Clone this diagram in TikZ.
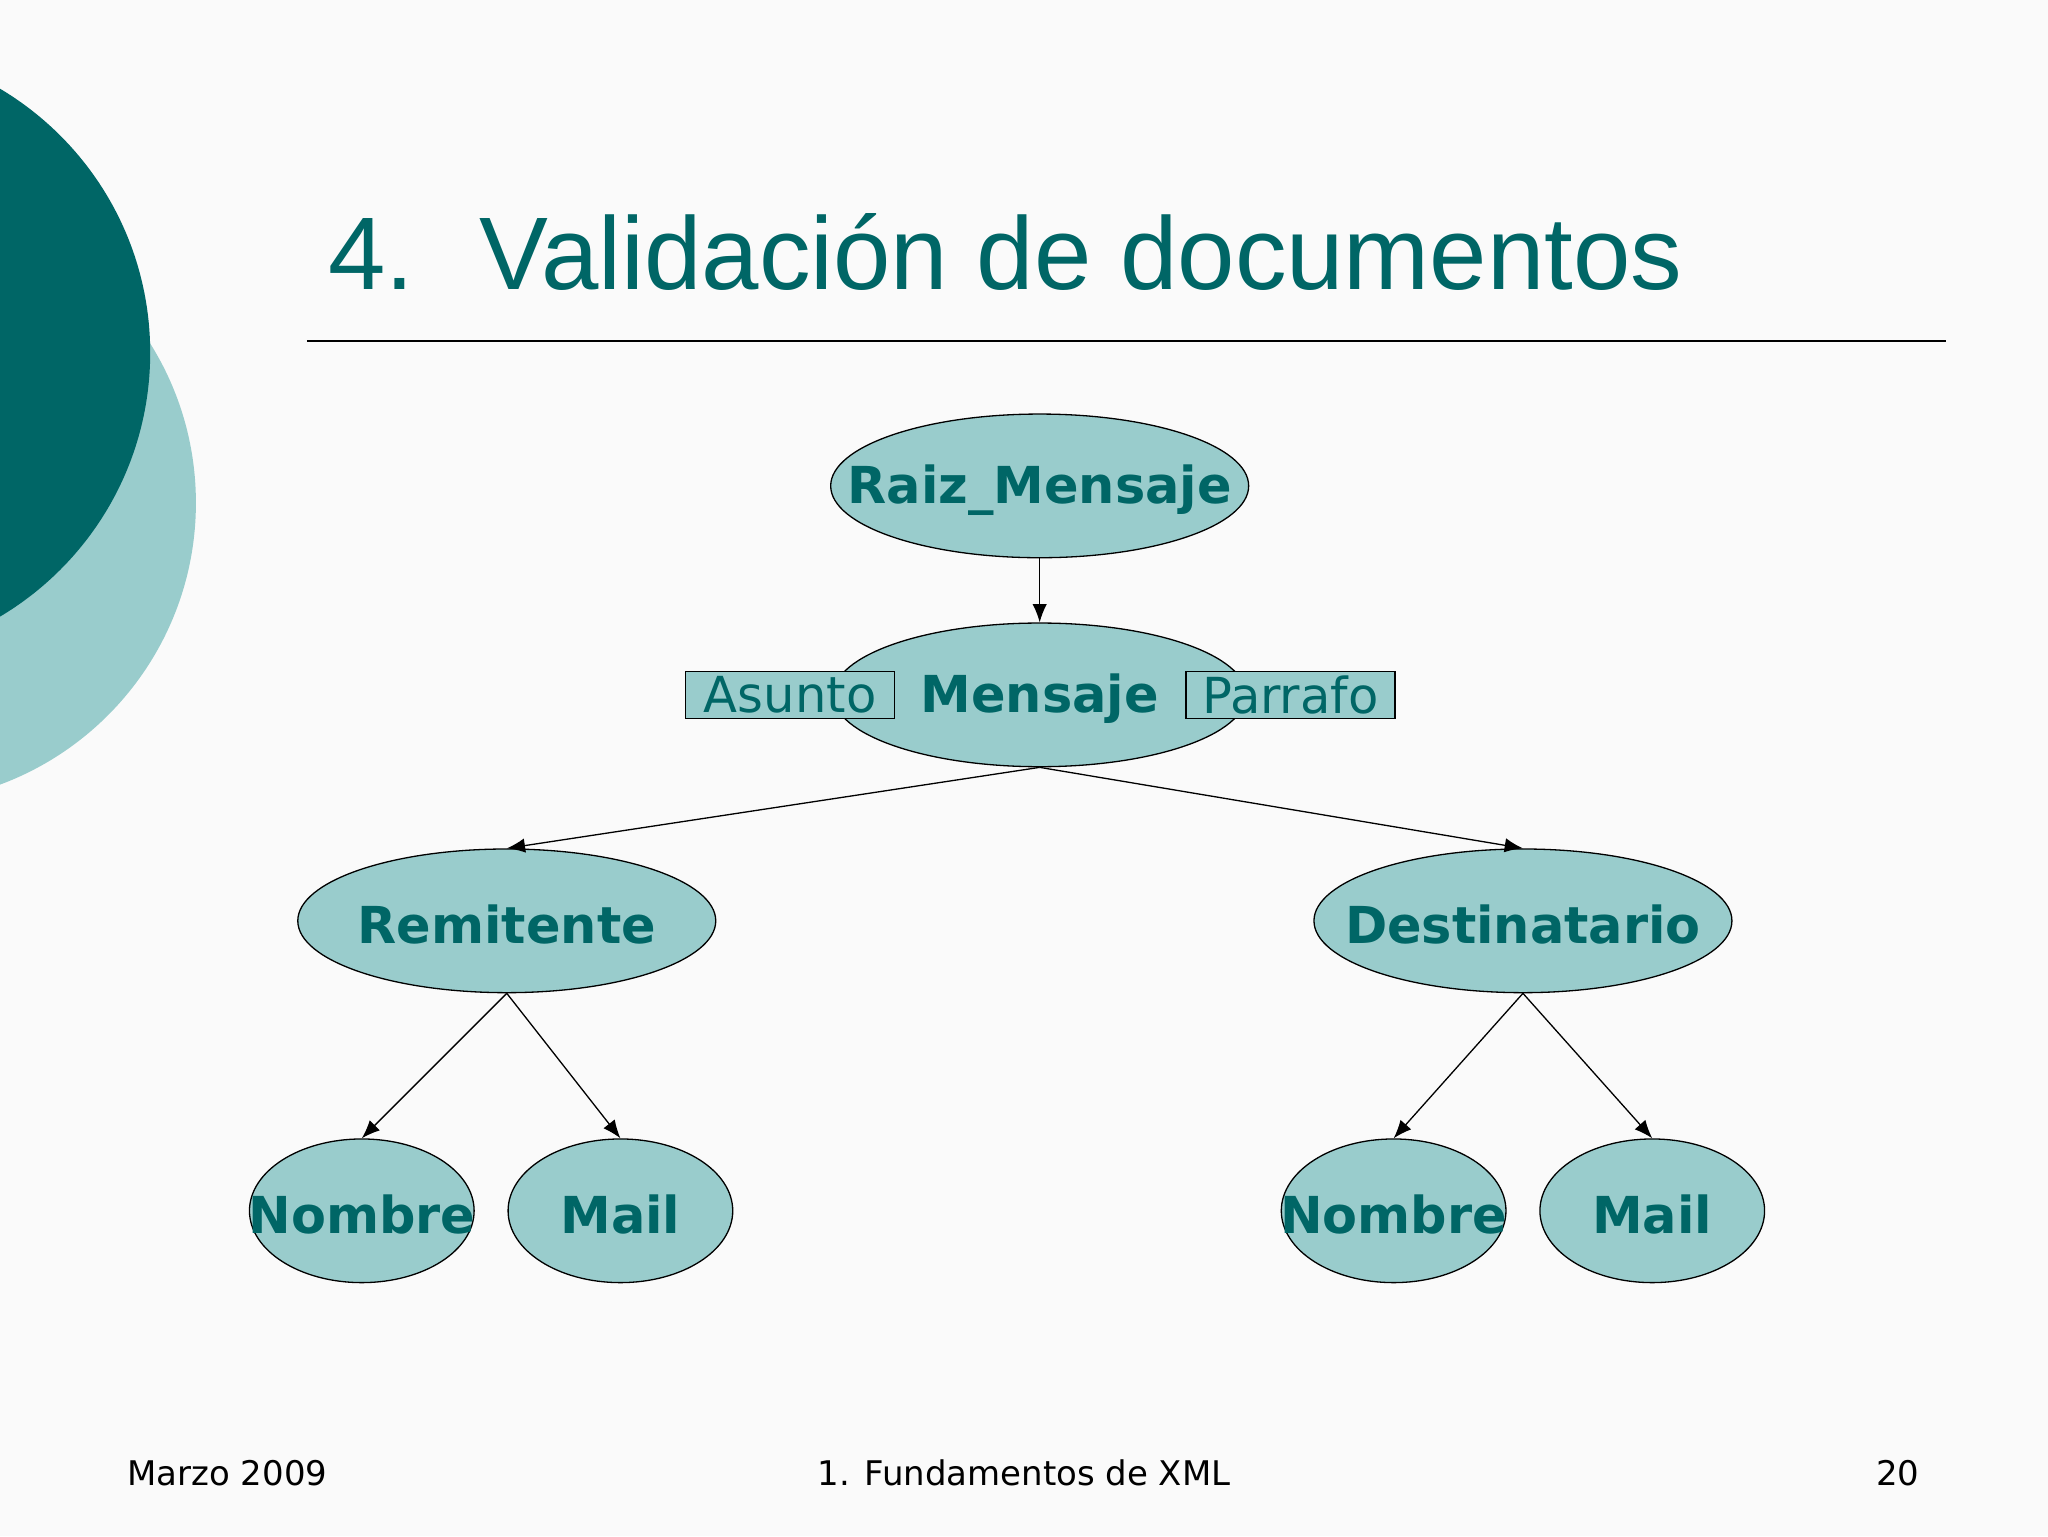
\documentclass[tikz,border=0pt]{standalone}
\usepackage{fontspec}
\setmainfont{DejaVu Sans}
\newfontfamily\titlefont{Liberation Sans}
\usetikzlibrary{shapes.geometric,arrows.meta}
\definecolor{teal1}{RGB}{0,102,102}
\definecolor{teal2}{RGB}{153,204,204}
\tikzset{
 ell/.style={ellipse,draw=black,fill=teal2,inner sep=0pt,line width=1pt,label distance=0pt},
 big/.style={ell,minimum width=320pt,minimum height=110pt},
 small/.style={ell,minimum width=172pt,minimum height=110pt},
 lbl/.style={text=teal1,font=\fontsize{39}{40}\selectfont\bfseries,yshift=-3pt},
 attr/.style={draw=black,fill=teal2,line width=1pt,minimum width=160pt,minimum height=36pt,inner sep=0pt,text=teal1,font=\fontsize{38}{40}\selectfont},
 arr/.style={-{Latex[length=14pt,width=11pt]},line width=1pt},
 foot/.style={font=\fontsize{26}{28}\selectfont,anchor=base}
}
\begin{document}
\begin{tikzpicture}[x=1pt,y=-1pt]
\useasboundingbox (0,0) rectangle (1568,1176);
\fill[white!98!black] (0,0) rectangle (1568,1176);
\begin{scope}
\clip (0,0) rectangle (1568,1176);
\fill[teal2] (-80,385) circle (230);
\fill[teal1] (-120,270) circle (235);
\end{scope}
\node[text=teal1,font=\titlefont\fontsize{79}{80}\selectfont,anchor=base west] (title) at (248,222) {4.\hspace{50pt}Validación de documentos};
\draw[line width=1.5pt] (235,261) -- (1490,261);
\node[big,label={[lbl]center:Raiz\_Mensaje}] (raiz) at (796,372) {};
\node[big,minimum width=316pt,label={[lbl]center:Mensaje}] (msg) at (796,532) {};
\node[attr] (asunto) at (605,532) {Asunto};
\node[attr] (parrafo) at (988,532) {Parrafo};
\node[big,label={[lbl]center:Remitente}] (rem) at (388,705) {};
\node[big,label={[lbl]center:Destinatario}] (dest) at (1166,705) {};
\node[small,label={[lbl]center:Nombre}] (n1) at (277,927) {};
\node[small,label={[lbl]center:Mail}] (m1) at (475,927) {};
\node[small,label={[lbl]center:Nombre}] (n2) at (1067,927) {};
\node[small,label={[lbl]center:Mail}] (m2) at (1265,927) {};
\draw[arr] (raiz.south) -- (msg.north);
\draw[arr] (msg.south) -- (rem.north);
\draw[arr] (msg.south) -- (dest.north);
\draw[arr] (rem.south) -- (n1.north);
\draw[arr] (rem.south) -- (m1.north);
\draw[arr] (dest.south) -- (n2.north);
\draw[arr] (dest.south) -- (m2.north);
\node[foot,anchor=base west] (f1) at (94,1137) {Marzo 2009};
\node[foot] (f2) at (784,1137) {1. Fundamentos de XML};
\node[foot,anchor=base east] (f3) at (1473,1137) {20};
\end{tikzpicture}
\end{document}
